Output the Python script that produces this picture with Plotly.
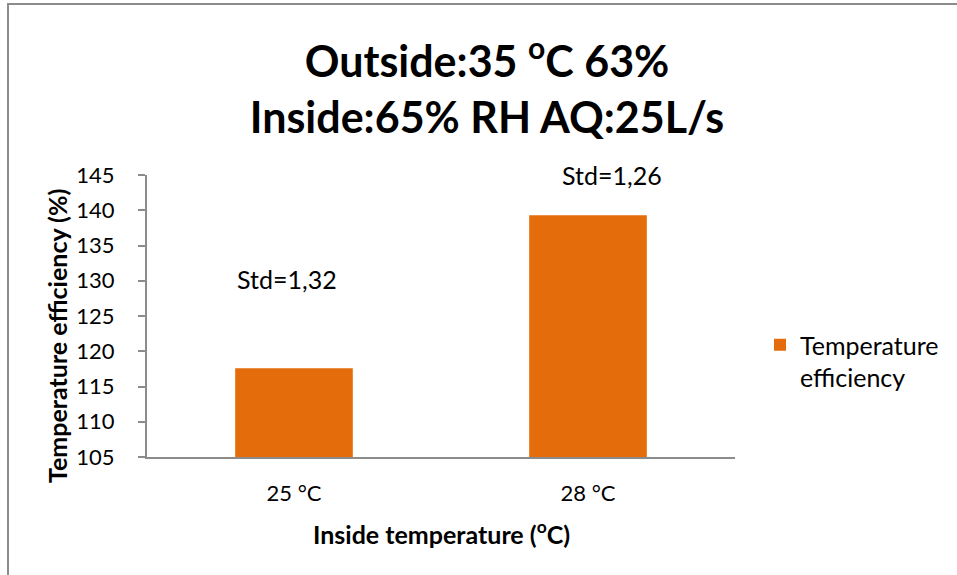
import plotly.graph_objects as go

categories = ["25 °C", "28 °C"]
values = [117.6, 139.3]
std_labels = ["Std=1,32", "Std=1,26"]
series_name = "Temperature<br>efficiency"
y_ticks = [105, 110, 115, 120, 125, 130, 135, 140, 145]

FONT = "Lato"
W, H = 957, 575
L, R, T, B = 147, 222, 175, 118
pw, ph = W - L - R, H - T - B

def px(x):
    return (x - L) / pw

def py(y):
    return (H - B - y) / ph

fig = go.Figure()
fig.add_trace(go.Bar(
    x=categories, y=values, name=series_name,
    marker=dict(color="#E46C0A", line=dict(width=0)),
    width=0.4, showlegend=True,
))

fig.update_layout(
    width=W, height=H,
    margin=dict(l=L, r=R, t=T, b=B, autoexpand=False),
    paper_bgcolor="white", plot_bgcolor="white",
    font=dict(family=FONT, size=22, color="black"),
    title=dict(
        text="Outside:35 <sup>o</sup>C 63%<br>Inside:65% RH AQ:25L/s",
        font=dict(family=FONT, size=43, color="black", weight="bold"),
        x=487 / W, xanchor="center", xref="container",
        y=1 - 77 / H, yanchor="top", yref="container",
    ),
    xaxis=dict(
        showline=True, linecolor="#8c8c8c", linewidth=2,
        ticks="", showgrid=False,
        tickfont=dict(size=22), ticklabelstandoff=16,
    ),
    yaxis=dict(
        range=[105, 145], tickvals=y_ticks,
        showline=True, linecolor="#8c8c8c", linewidth=2,
        ticks="outside", ticklen=7, tickcolor="#8c8c8c", tickwidth=2,
        showgrid=False, zeroline=False,
        tickfont=dict(size=22), ticklabelstandoff=19,
    ),
    legend=dict(
        x=px(760), y=py(361), xanchor="left", yanchor="middle",
        font=dict(size=25), bgcolor="rgba(0,0,0,0)", valign="top",
    ),
    bargap=0.6,
)

ann_pos = [(287, 279), (612, 175)]
for lab, (ax_, ay_) in zip(std_labels, ann_pos):
    fig.add_annotation(
        text=lab, x=px(ax_), y=py(ay_), xref="paper", yref="paper",
        showarrow=False, font=dict(size=25), xanchor="center", yanchor="middle",
    )

# axis titles
fig.add_annotation(
    text="Inside temperature (<sup>o</sup>C)", x=px(441), y=py(532),
    xref="paper", yref="paper", showarrow=False,
    font=dict(size=25, weight="bold"), xanchor="center", yanchor="middle",
)
fig.add_annotation(
    text="Temperature efficiency (%)", x=px(57), y=py(336),
    xref="paper", yref="paper", showarrow=False, textangle=-90,
    font=dict(size=25, weight="bold"), xanchor="center", yanchor="middle",
)

fig.add_shape(
    type="rect", xref="paper", yref="paper",
    x0=px(8), x1=px(962), y0=py(580), y1=py(4),
    line=dict(color="#8c8c8c", width=2), fillcolor="rgba(0,0,0,0)", layer="below",
)

fig.write_html("out.html", config={"displayModeBar": False},
               post_script="document.body.style.margin='0';")
